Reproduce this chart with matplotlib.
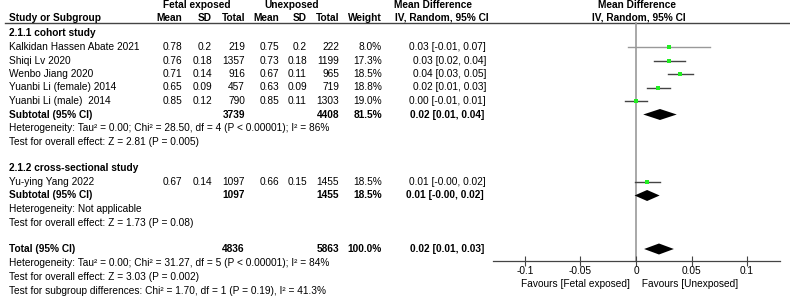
import matplotlib
matplotlib.use("Agg")
import matplotlib.pyplot as plt
import numpy as np

plt.rcParams['font.family'] = ['Liberation Sans', 'DejaVu Sans']

# study rows
studies = ["Kalkidan Hassen Abate 2021", "Shiqi Lv 2020", "Wenbo Jiang 2020",
           "Yuanbi Li (female) 2014", "Yuanbi Li (male)  2014", "Yu-ying Yang 2022"]
fe_mean = ["0.78", "0.76", "0.71", "0.65", "0.85", "0.67"]
fe_sd = ["0.2", "0.18", "0.14", "0.09", "0.12", "0.14"]
fe_total = ["219", "1357", "916", "457", "790", "1097"]
un_mean = ["0.75", "0.73", "0.67", "0.63", "0.85", "0.66"]
un_sd = ["0.2", "0.18", "0.11", "0.09", "0.11", "0.15"]
un_total = ["222", "1199", "965", "719", "1303", "1455"]
weight = [8.0, 17.3, 18.5, 18.8, 19.0, 18.5]
md = [0.030, 0.030, 0.040, 0.020, 0.000, 0.010]
ci_lo = [-0.007, 0.016, 0.029, 0.0095, -0.0103, -0.0013]
ci_hi = [0.067, 0.044, 0.051, 0.0305, 0.0103, 0.0213]
md_text = ["0.03 [-0.01, 0.07]", "0.03 [0.02, 0.04]", "0.04 [0.03, 0.05]",
           "0.02 [0.01, 0.03]", "0.00 [-0.01, 0.01]", "0.01 [-0.00, 0.02]"]

# pooled rows: subtotal 1, subtotal 2, total
pool_fe_total = ["3739", "1097", "4836"]
pool_un_total = ["4408", "1455", "5863"]
pool_weight = ["81.5%", "18.5%", "100.0%"]
pool_md = [0.0216, 0.010, 0.0207]
pool_lo = [0.0065, -0.0013, 0.0073]
pool_hi = [0.0367, 0.0213, 0.0341]
pool_text = ["0.02 [0.01, 0.04]", "0.01 [-0.00, 0.02]", "0.02 [0.01, 0.03]"]
pool_label = ["Subtotal (95% CI)", "Subtotal (95% CI)", "Total (95% CI)"]

xticks = [-0.1, -0.05, 0, 0.05, 0.1]
xtick_labels = ["-0.1", "-0.05", "0", "0.05", "0.1"]

W, H = 790, 296
fs = 7.3
fig = plt.figure(figsize=(W / 100, H / 100), dpi=100)
ax = fig.add_axes([0, 0, 1, 1])
ax.set_xlim(0, W)
ax.set_ylim(H, 0)
ax.axis('off')

study_y = [47, 60.5, 74, 87.5, 101, 182]
pool_y = [114.5, 195.5, 249]
col_r = [182, 212, 245, 279, 307, 339, 382]
md_r = 486

# headers
ax.text(197, 5, "Fetal exposed", ha='center', va='center', fontsize=fs, fontweight='bold')
ax.text(292, 5, "Unexposed", ha='center', va='center', fontsize=fs, fontweight='bold')
ax.text(394, 5, "Mean Difference", ha='left', va='center', fontsize=fs, fontweight='bold')
ax.text(637, 5, "Mean Difference", ha='center', va='center', fontsize=fs, fontweight='bold')
ax.text(9, 18, "Study or Subgroup", ha='left', va='center', fontsize=fs, fontweight='bold')
for x, h in zip(col_r, ["Mean", "SD", "Total", "Mean", "SD", "Total", "Weight"]):
    ax.text(x, 18, h, ha='right', va='center', fontsize=fs, fontweight='bold')
ax.text(395, 18, "IV, Random, 95% CI", ha='left', va='center', fontsize=fs, fontweight='bold')
ax.text(639, 18, "IV, Random, 95% CI", ha='center', va='center', fontsize=fs, fontweight='bold')
ax.plot([5, 790], [23, 23], color='#444444', lw=1)

ax.text(9, 33, "2.1.1 cohort study", ha='left', va='center', fontsize=fs, fontweight='bold')
ax.text(9, 168, "2.1.2 cross-sectional study", ha='left', va='center', fontsize=fs, fontweight='bold')

for i, y in enumerate(study_y):
    ax.text(9, y, studies[i], ha='left', va='center', fontsize=fs)
    vals = [fe_mean[i], fe_sd[i], fe_total[i], un_mean[i], un_sd[i], un_total[i],
            "%.1f%%" % weight[i]]
    for x, v in zip(col_r, vals):
        ax.text(x, y, v, ha='right', va='center', fontsize=fs)
    ax.text(md_r, y, md_text[i], ha='right', va='center', fontsize=fs)

for i, y in enumerate(pool_y):
    ax.text(9, y, pool_label[i], ha='left', va='center', fontsize=fs, fontweight='bold')
    ax.text(col_r[2], y, pool_fe_total[i], ha='right', va='center', fontsize=fs, fontweight='bold')
    ax.text(col_r[5], y, pool_un_total[i], ha='right', va='center', fontsize=fs, fontweight='bold')
    ax.text(col_r[6], y, pool_weight[i], ha='right', va='center', fontsize=fs, fontweight='bold')
    ax.text(md_r - 2, y, pool_text[i], ha='right', va='center', fontsize=fs, fontweight='bold')

notes = [
    (128, "Heterogeneity: Tau\u00b2 = 0.00; Chi\u00b2 = 28.50, df = 4 (P < 0.00001); I\u00b2 = 86%"),
    (142, "Test for overall effect: Z = 2.81 (P = 0.005)"),
    (209.5, "Heterogeneity: Not applicable"),
    (223, "Test for overall effect: Z = 1.73 (P = 0.08)"),
    (263, "Heterogeneity: Tau\u00b2 = 0.00; Chi\u00b2 = 31.27, df = 5 (P < 0.00001); I\u00b2 = 84%"),
    (277, "Test for overall effect: Z = 3.03 (P = 0.002)"),
    (290.5, "Test for subgroup differences: Chi\u00b2 = 1.70, df = 1 (P = 0.19), I\u00b2 = 41.3%"),
]
for y, t in notes:
    ax.text(9, y, t, ha='left', va='center', fontsize=fs)

# forest panel
x0, x1 = 493, 780
fx = fig.add_axes([x0 / W, 0, (x1 - x0) / W, 1])
fx.patch.set_alpha(0)
fx.set_xlim(-0.1288, 0.1297)
fx.set_ylim(H, 0)
for s in ['top', 'left', 'right']:
    fx.spines[s].set_visible(False)
fx.spines['bottom'].set_position(('data', 260.5))
fx.spines['bottom'].set_color('#444444')
fx.spines['bottom'].set_linewidth(0.9)
fx.set_yticks([])
fx.set_xticks(xticks)
fx.set_xticklabels(xtick_labels, fontsize=fs)
fx.tick_params(axis='x', direction='inout', length=6.5, width=0.8, color='#444444', pad=1)

fx.plot([0, 0], [23, 260.5], color='#999999', lw=1.2, zorder=1)

for i, y in enumerate(study_y):
    col = '#999999' if i == 0 else '#444444'
    fx.plot([ci_lo[i], ci_hi[i]], [y, y], color=col, lw=1.0, zorder=2)
    fx.plot(md[i], y, 's', color='#22ee22', ms=0.78 * np.sqrt(weight[i]),
            mec='#22ee22', mew=0, zorder=3)

for i, y in enumerate(pool_y):
    h = 5.5
    fx.fill([pool_lo[i], pool_md[i], pool_hi[i], pool_md[i]],
            [y, y - h, y, y + h], color='black', lw=0, zorder=3)

fx.text(0.0, 284, "Favours [Fetal exposed]  ", ha='right', va='center', fontsize=fs)
fx.text(0.0, 284, "  Favours [Unexposed]", ha='left', va='center', fontsize=fs)

fig.savefig("out.png", dpi=100, facecolor='white')
